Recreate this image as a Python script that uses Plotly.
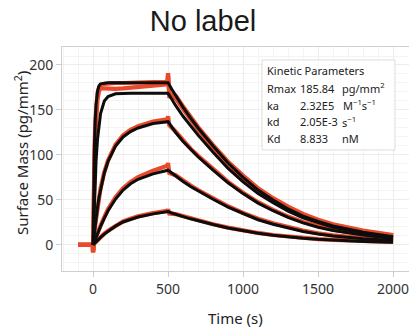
import plotly.graph_objects as go

# ---------------- data ----------------
fit_t = [0, 5, 10, 15, 20, 30, 40, 50, 75, 100, 150, 200, 250, 300, 400, 500,
         525, 550, 600, 650, 700, 800, 900, 1000, 1100, 1200, 1300, 1400, 1500, 1600, 1800, 2000]

fit1 = [0, 71, 114, 140, 156, 171, 177, 179, 180, 180.3, 180.3, 180.3, 180.3, 180.3, 180.3, 180.3,
        173, 166, 153, 141, 130, 110, 91, 75, 61, 50, 40, 32, 26, 21, 14, 9]
fit2 = [0, 31, 57, 76, 93, 118, 135, 146, 160, 165, 168, 168.5, 168.5, 168.5, 168.5, 168.5,
        162, 155, 143, 132, 122, 103, 85, 70, 57, 47, 37.5, 30, 24.5, 19.7, 13, 8.5]
fit3 = [0, 8, 16, 23, 30, 42, 53, 62, 80, 93, 110, 120, 126, 130, 135, 137,
        131, 125, 115, 106, 98, 83, 69, 57, 46.5, 38, 30.5, 24.5, 19.7, 16, 11, 7]
fit4 = [0, 2.2, 4.4, 6.6, 8.7, 12.9, 16.8, 20.5, 29.5, 38, 51, 61, 68, 73, 79, 83,
        80, 76.5, 70.5, 65, 60, 50.7, 42, 34.6, 28, 23, 18.6, 15, 12.2, 10, 6.8, 4.8]
fit5 = [0, 0.9, 1.8, 2.7, 3.5, 5.2, 6.8, 8.4, 12, 15.3, 21, 25.5, 28.5, 31, 34.5, 37,
        35.5, 34, 31.5, 29, 26.8, 22.7, 18.9, 15.7, 13, 10.8, 8.9, 7.4, 6.2, 5.2, 3.9, 3]

data_t = [-100, -1, 0,
          2, 5, 10, 15, 20, 30, 40, 50, 75, 100, 150, 200, 250, 300, 400, 495,
          500,
          508, 550, 600, 650, 700, 800, 900, 1000, 1100, 1200, 1300, 1400, 1500, 1600, 1800, 2000]

data1 = [0, 0, -8,
         30, 68, 110, 137, 153, 169, 175, 177.5, 179, 179.5, 180, 180, 180.5, 180.5, 181, 181,
         191,
         168, 166, 154, 142, 131, 111, 92.5, 77, 63, 52, 42.5, 34.5, 28, 23, 16, 11]
data2 = [0, 0, -8,
         25, 55, 95, 122, 140, 162, 171, 174, 174, 173.5, 173.5, 174, 174.5, 175, 177, 178.5,
         189,
         165, 163, 151, 139, 128, 108, 89.5, 74, 60.5, 49.5, 40, 32.5, 26.5, 21.5, 15, 10.5]
data3 = [0, 0, -8,
         3, 8, 16, 23, 30, 42, 53, 63, 81, 94, 111.5, 122, 128, 132, 137, 139.5,
         143,
         133, 126, 116, 107, 99, 84, 70, 58, 47.5, 39, 31.5, 25.5, 20.7, 17, 11.8, 7.8]
data4 = [0, 0, -8,
         0.8, 2.2, 4.5, 6.8, 9, 13.3, 17.5, 21.5, 31, 40, 53, 63, 70, 75.5, 82.5, 88,
         91,
         80, 77.5, 71.5, 66, 61, 51.5, 43, 35.5, 29, 24, 19.5, 16, 13, 10.7, 7.5, 5.5]
data5 = [0, 0, -8,
         0.4, 1, 1.9, 2.8, 3.7, 5.4, 7, 8.7, 12.5, 15.8, 21.5, 26, 29, 31.7, 35.3, 37.8,
         39.5,
         35, 34.3, 31.8, 29.3, 27, 23, 19.2, 16, 13.3, 11, 9.2, 7.7, 6.5, 5.5, 4.2, 3.3]

x_ticks = [0, 500, 1000, 1500, 2000]
y_ticks = [0, 50, 100, 150, 200]

param_names = ["Rmax", "ka", "kd", "Kd"]
param_values = ["185.84", "2.32E5", "2.05E-3", "8.833"]
param_units = ["pg/mm<sup>2</sup>", "M<sup>−1</sup>s<sup>−1</sup>", "s<sup>−1</sup>", "nM"]

# ---------------- figure ----------------
RED = "#ea4a2a"
BLACK = "#0d0d0d"

fig = go.Figure()
for d in [data1, data2, data3, data4, data5]:
    fig.add_trace(go.Scatter(x=data_t, y=d, mode="lines",
                             line=dict(color=RED, width=4.2), hoverinfo="skip"))
for f in [fit1, fit2, fit3, fit4, fit5]:
    fig.add_trace(go.Scatter(x=fit_t, y=f, mode="lines",
                             line=dict(color=BLACK, width=3), hoverinfo="skip"))

W, H = 409, 333
L, R, T, B = 62, 0, 47, 62
PW, PH = W - L - R, H - T - B


def px(x):
    return (x - L) / PW


def py(y):
    return (H - B - y) / PH


AX_FONT = dict(family="Noto Sans, Open Sans, sans-serif", size=14, color="#333333")

fig.update_layout(
    width=W, height=H, autosize=False,
    margin=dict(l=L, r=R, t=T, b=B, autoexpand=False),
    paper_bgcolor="white", plot_bgcolor="white",
    showlegend=False,
    title=dict(text="No label", x=203 / W, xanchor="center",
               y=1 - 21 / H, yanchor="middle", yref="container",
               font=dict(family="Liberation Sans, Arial, sans-serif", size=29, color="#1a1a1a")),
    xaxis=dict(range=[-207, 2106], tickvals=x_ticks, ticktext=[str(v) for v in x_ticks],
               automargin=False, ticklabeloverflow="allow",
               showgrid=True, gridcolor="#ececec", gridwidth=1,
               minor=dict(dtick=100, showgrid=True, gridcolor="#f4f4f4"),
               zeroline=False, showline=True, linecolor="#cfcfcf", linewidth=1, mirror=True,
               ticks="outside", ticklen=5, tickcolor="#cfcfcf",
               tickfont=AX_FONT),
    yaxis=dict(range=[-29, 220], tickvals=y_ticks, ticktext=[str(v) for v in y_ticks],
               automargin=False, ticklabeloverflow="allow",
               showgrid=True, gridcolor="#ececec", gridwidth=1,
               minor=dict(dtick=10, showgrid=True, gridcolor="#f4f4f4"),
               zeroline=False, showline=True, linecolor="#cfcfcf", linewidth=1, mirror=False,
               ticks="outside", ticklen=5, tickcolor="#cfcfcf",
               tickfont=AX_FONT),
)

# axis titles
fig.add_annotation(text="Time (s)", xref="paper", yref="paper",
                   x=px(235), y=py(318), xanchor="center", yanchor="middle",
                   showarrow=False, font=dict(family="Noto Sans, sans-serif", size=15, color="#222222"))
fig.add_annotation(text="Surface Mass (pg/mm<sup>2</sup>)", xref="paper", yref="paper",
                   x=px(21), y=py(153), xanchor="center", yanchor="middle", textangle=-90,
                   showarrow=False, font=dict(family="Noto Sans, sans-serif", size=15, color="#222222"))

# kinetic parameters box
fig.add_shape(type="rect", xref="paper", yref="paper",
              x0=px(262), x1=px(395), y0=py(150), y1=py(60),
              line=dict(color="#dddddd", width=1), fillcolor="rgba(255,255,255,0.9)", layer="above")

BOX_FONT = dict(family="Noto Sans, sans-serif", size=11, color="#222222")
fig.add_annotation(text="Kinetic Parameters", xref="paper", yref="paper",
                   x=px(265), y=py(70), xanchor="left", yanchor="middle",
                   showarrow=False, font=BOX_FONT)
row_y = [88, 105, 121.5, 138]
unit_x = [340, 341, 340, 340]
for i in range(4):
    fig.add_annotation(text=param_names[i], xref="paper", yref="paper",
                       x=px(265), y=py(row_y[i]), xanchor="left", yanchor="middle",
                       showarrow=False, font=BOX_FONT)
    fig.add_annotation(text=param_values[i], xref="paper", yref="paper",
                       x=px(298), y=py(row_y[i]), xanchor="left", yanchor="middle",
                       showarrow=False, font=BOX_FONT)
    fig.add_annotation(text=param_units[i], xref="paper", yref="paper",
                       x=px(unit_x[i]), y=py(row_y[i]), xanchor="left", yanchor="middle",
                       showarrow=False, font=BOX_FONT)

fig.write_html("out.html", config={"displayModeBar": False},
               post_script="document.body.style.margin='0';document.body.style.overflow='hidden';")
